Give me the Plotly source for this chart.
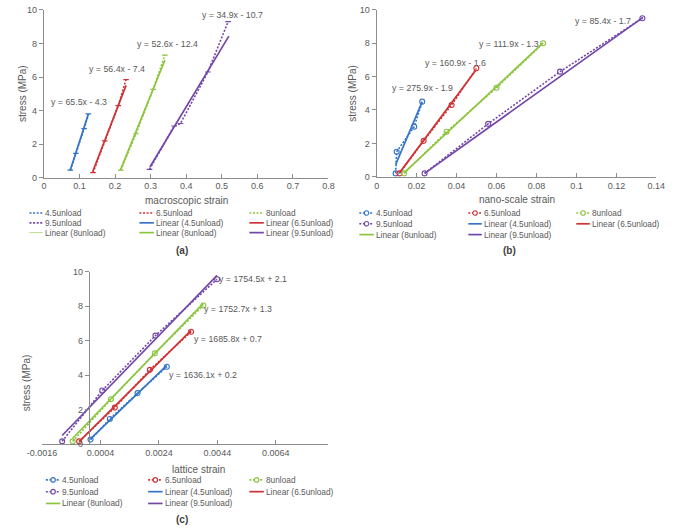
import plotly.graph_objects as go

W, H = 675, 532

# ---------------- data ----------------
series_labels = ["4.5unload", "6.5unload", "8unload", "9.5unload"]

# (a) macroscopic strain -> stress (MPa)
macro_strain_45 = [0.074, 0.090, 0.113, 0.125]
macro_stress_45 = [0.45, 1.45, 2.92, 3.80]
macro_strain_65 = [0.138, 0.171, 0.209, 0.231]
macro_stress_65 = [0.30, 2.20, 4.30, 5.85]
macro_strain_8 = [0.216, 0.259, 0.307, 0.340]
macro_stress_8 = [0.45, 2.62, 5.26, 7.30]
macro_strain_95 = [0.297, 0.366, 0.384, 0.461, 0.518]
macro_stress_95 = [0.50, 3.08, 3.23, 6.30, 9.30]
# linear trend lines (end points)
macro_fit_x_45 = [0.074, 0.125]
macro_fit_y_45 = [0.45, 3.80]
macro_fit_x_65 = [0.137, 0.231]
macro_fit_y_65 = [0.35, 5.50]
macro_fit_x_8 = [0.215, 0.340]
macro_fit_y_8 = [0.45, 7.00]
macro_fit_x_95 = [0.298, 0.520]
macro_fit_y_95 = [0.64, 8.44]
macro_equations = ["y = 65.5x - 4.3", "y = 56.4x - 7.4", "y = 52.6x - 12.4", "y = 34.9x - 10.7"]

# (b) nano-scale strain -> stress (MPa)
nano_strain_45 = [0.0095, 0.0100, 0.0188, 0.0228]
nano_stress_45 = [0.20, 1.50, 3.00, 4.50]
nano_strain_65 = [0.0114, 0.0235, 0.0375, 0.0499]
nano_stress_65 = [0.20, 2.15, 4.30, 6.50]
nano_strain_8 = [0.0137, 0.0350, 0.0600, 0.0833]
nano_stress_8 = [0.20, 2.70, 5.33, 8.00]
nano_strain_95 = [0.0240, 0.0558, 0.0918, 0.1330]
nano_stress_95 = [0.20, 3.17, 6.30, 9.50]
nano_fit_x_45 = [0.0095, 0.0228]
nano_fit_y_45 = [0.72, 4.50]
nano_fit_x_65 = [0.0114, 0.0499]
nano_fit_y_65 = [0.23, 6.43]
nano_fit_x_8 = [0.0137, 0.0833]
nano_fit_y_8 = [0.23, 8.02]
nano_fit_x_95 = [0.0240, 0.1333]
nano_fit_y_95 = [0.20, 9.55]
nano_equations = ["y = 275.9x - 1.9", "y = 160.9x - 1.6", "y = 111.9x - 1.3", "y = 85.4x - 1.7"]

# (c) lattice strain -> stress (MPa)
lattice_strain_45 = [0.00006, 0.00072, 0.00167, 0.00267]
lattice_stress_45 = [0.26, 1.46, 2.96, 4.49]
lattice_strain_65 = [-0.00033, 0.00089, 0.00209, 0.00350]
lattice_stress_65 = [0.16, 2.12, 4.31, 6.52]
lattice_strain_8 = [-0.00055, 0.00076, 0.00226, 0.00392]
lattice_stress_8 = [0.16, 2.60, 5.27, 8.05]
lattice_strain_95 = [-0.00091, 0.00046, 0.00228, 0.00439]
lattice_stress_95 = [0.16, 3.11, 6.30, 9.57]
lattice_fit_x_45 = [0.00006, 0.00267]
lattice_fit_y_45 = [0.30, 4.57]
lattice_fit_x_65 = [-0.00033, 0.00350]
lattice_fit_y_65 = [0.14, 6.60]
lattice_fit_x_8 = [-0.00055, 0.00392]
lattice_fit_y_8 = [0.34, 8.17]
lattice_fit_x_95 = [-0.00091, 0.00439]
lattice_fit_y_95 = [0.50, 9.80]
lattice_equations = ["y = 1636.1x + 0.2", "y = 1685.8x + 0.7", "y = 1752.7x + 1.3", "y = 1754.5x + 2.1"]

# tick labels
macro_ticks = [0, 0.1, 0.2, 0.3, 0.4, 0.5, 0.6, 0.7, 0.8]
nano_ticks = [0, 0.02, 0.04, 0.06, 0.08, 0.1, 0.12, 0.14]
nano_ticktext = ["0", "0.02", "0.04", "0.06", "0.08", "0.1", "0.12", "0.14"]
lattice_ticks = [-0.0016, 0.0004, 0.0024, 0.0044, 0.0064]
lattice_ticktext = ["-0.0016", "0.0004", "0.0024", "0.0044", "0.0064"]
stress_ticks = [0, 2, 4, 6, 8, 10]

# ---------------- styles ----------------
FONT = "Liberation Sans, Arial, sans-serif"
TXT = "#595959"
AXC = "#8c8c8c"
COLORS = ["#3574C6", "#CF3234", "#8CC540", "#7347A8"]
LIGHT_GREEN = "#B9DC8F"
DOT = "2px,1.6px"


def px_x(px):
    return px / W


def px_y(py):
    return 1 - py / H


DOM = {
    "a": ([px_x(30), px_x(325)], [px_y(176), px_y(5)]),
    "b": ([px_x(375), px_x(665)], [px_y(175), px_y(5)]),
    "c": ([px_x(28), px_x(325)], [px_y(447.5), px_y(272)]),
}

fig = go.Figure()

panels = [
    ("x", "y", "a",
     [(macro_strain_45, macro_stress_45), (macro_strain_65, macro_stress_65),
      (macro_strain_8, macro_stress_8), (macro_strain_95, macro_stress_95)],
     [(macro_fit_x_45, macro_fit_y_45), (macro_fit_x_65, macro_fit_y_65),
      (macro_fit_x_8, macro_fit_y_8), (macro_fit_x_95, macro_fit_y_95)]),
    ("x2", "y2", "b",
     [(nano_strain_45, nano_stress_45), (nano_strain_65, nano_stress_65),
      (nano_strain_8, nano_stress_8), (nano_strain_95, nano_stress_95)],
     [(nano_fit_x_45, nano_fit_y_45), (nano_fit_x_65, nano_fit_y_65),
      (nano_fit_x_8, nano_fit_y_8), (nano_fit_x_95, nano_fit_y_95)]),
    ("x3", "y3", "c",
     [(lattice_strain_45, lattice_stress_45), (lattice_strain_65, lattice_stress_65),
      (lattice_strain_8, lattice_stress_8), (lattice_strain_95, lattice_stress_95)],
     [(lattice_fit_x_45, lattice_fit_y_45), (lattice_fit_x_65, lattice_fit_y_65),
      (lattice_fit_x_8, lattice_fit_y_8), (lattice_fit_x_95, lattice_fit_y_95)]),
]

for xa, ya, key, data, fits in panels:
    for i, (sx, sy) in enumerate(data):
        if key == "a":
            mk = dict(symbol="line-ew-open", size=4, color=COLORS[i], line=dict(width=1.2, color=COLORS[i]))
        else:
            mk = dict(symbol="circle-open", size=5, color=COLORS[i], line=dict(width=1.1, color=COLORS[i]))
        fig.add_trace(go.Scatter(x=sx, y=sy, xaxis=xa, yaxis=ya, mode="lines+markers",
                                 name=series_labels[i], showlegend=False,
                                 line=dict(color=COLORS[i], width=1.6, dash=DOT), marker=mk,
                                 hoverinfo="skip"))
    for i, (fx, fy) in enumerate(fits):
        if key == "a" and i == 2:
            fig.add_trace(go.Scatter(x=fx, y=fy, xaxis=xa, yaxis=ya, mode="lines",
                                     name="Linear (" + series_labels[i] + ")", showlegend=False,
                                     line=dict(color=LIGHT_GREEN, width=1), hoverinfo="skip"))
        fig.add_trace(go.Scatter(x=fx, y=fy, xaxis=xa, yaxis=ya, mode="lines",
                                 name="Linear (" + series_labels[i] + ")", showlegend=False,
                                 line=dict(color=COLORS[i], width=1.7), hoverinfo="skip"))

# equation labels (positions in data units)
eq_pos = {
    "a": ("x", "y", macro_equations, [(0.0976, 4.5), (0.206, 6.49), (0.347, 7.95), (0.529, 9.67)]),
    "b": ("x2", "y2", nano_equations, [(0.0228, 5.29), (0.0397, 6.8), (0.066, 7.94), (0.1131, 9.35)]),
    "c": ("x3", "y3", lattice_equations, [(0.00392, 4.01), (0.00476, 6.09), (0.00512, 7.86), (0.00562, 9.57)]),
}
annotations = []
for key, (xa, ya, eqs, pos) in eq_pos.items():
    for txt, (ex, ey) in zip(eqs, pos):
        annotations.append(dict(x=ex, y=ey, xref=xa, yref=ya, text=txt, showarrow=False,
                                xanchor="center", yanchor="middle",
                                font=dict(size=8.8, color=TXT, family=FONT)))

# axis titles and panel labels (pixel positions)
titles = [
    ("macroscopic strain", 178, 199, 0), ("stress (MPa)", 8, 90, -90),
    ("nano-scale strain", 520, 198, 0), ("stress (MPa)", 350, 90, -90),
    ("lattice strain", 190, 473, 0), ("stress (MPa)", 12, 385, -90),
]
for txt, tx, ty, ang in titles:
    annotations.append(dict(x=px_x(tx), y=px_y(ty), xref="paper", yref="paper", text=txt,
                            showarrow=False, textangle=ang, xanchor="center", yanchor="middle",
                            font=dict(size=10, color=TXT, family=FONT)))
for txt, tx, ty in [("(a)", 173, 250), ("(b)", 513, 250), ("(c)", 173, 524)]:
    annotations.append(dict(x=px_x(tx), y=px_y(ty), xref="paper", yref="paper", text="<b>" + txt + "</b>",
                            showarrow=False, xanchor="center", yanchor="middle",
                            font=dict(size=10, color="#404040", family=FONT)))

# legends (drawn as keys + labels)
shapes = []


def legend_block(entries, col_sw, col_tx, rows, with_marker):
    for k, (label, color, kind, lw) in enumerate(entries):
        r, c = divmod(k, 3)
        y = rows[r]
        x0 = col_sw[c]
        x1 = col_tx[c] - 1
        if kind == "data":
            shapes.append(dict(type="line", xref="paper", yref="paper", x0=px_x(x0), x1=px_x(x1),
                               y0=px_y(y), y1=px_y(y), line=dict(color=color, width=1.6, dash=DOT)))
            if with_marker:
                cx = (x0 + x1) / 2
                shapes.append(dict(type="circle", xref="paper", yref="paper",
                                   x0=px_x(cx - 2.3), x1=px_x(cx + 2.3), y0=px_y(y + 2.3), y1=px_y(y - 2.3),
                                   line=dict(color=color, width=1.1), fillcolor="white"))
        else:
            shapes.append(dict(type="line", xref="paper", yref="paper", x0=px_x(x0), x1=px_x(x1),
                               y0=px_y(y), y1=px_y(y), line=dict(color=color, width=lw)))
        annotations.append(dict(x=px_x(col_tx[c] - 1), y=px_y(y), xref="paper", yref="paper", text=label,
                                showarrow=False, xanchor="left", yanchor="middle",
                                font=dict(size=8.3, color=TXT, family=FONT)))


data_entries = [(series_labels[i], COLORS[i], "data", 1.6) for i in range(4)]
fit_entries = [("Linear (" + series_labels[i] + ")", COLORS[i], "fit", 1.7) for i in range(4)]

legend_a = data_entries + fit_entries[:2] + [("Linear (8unload)", LIGHT_GREEN, "fit", 1.0)] + fit_entries[2:]
legend_bc = data_entries + fit_entries

legend_block(legend_a, [15, 129, 243], [30, 145, 259], [212, 222, 232], False)
legend_block(legend_bc, [357, 470, 582], [373, 485, 597], [212, 223, 234], True)
legend_block(legend_bc, [32, 138, 243], [48, 154, 259], [484, 496, 508], True)

common = dict(showline=True, linecolor=AXC, linewidth=1, showgrid=False, zeroline=False,
              tickfont=dict(size=9, color=TXT, family=FONT), ticklen=4, tickcolor=AXC, tickwidth=1,
              fixedrange=True)

cx0, cx1 = DOM["c"][0]
y3_pos = cx0 + (0 - (-0.0016)) / (0.0082 - (-0.0016)) * (cx1 - cx0)

fig.update_layout(
    width=W, height=H,
    margin=dict(l=0, r=0, t=0, b=0),
    paper_bgcolor="white", plot_bgcolor="rgba(0,0,0,0)",
    showlegend=False,
    font=dict(family=FONT, color=TXT),
    xaxis=dict(domain=DOM["a"][0], range=[0, 0.8], tickvals=macro_ticks, ticks="inside", anchor="y", **common),
    yaxis=dict(domain=DOM["a"][1], range=[0, 10], tickvals=stress_ticks, ticks="outside", anchor="x", **common),
    xaxis2=dict(domain=DOM["b"][0], range=[0, 0.14], tickvals=nano_ticks, ticktext=nano_ticktext,
                ticks="inside", anchor="y2", **common),
    yaxis2=dict(domain=DOM["b"][1], range=[0, 10], tickvals=stress_ticks, ticks="outside", anchor="x2", **common),
    xaxis3=dict(domain=DOM["c"][0], range=[-0.0016, 0.0082], tickvals=lattice_ticks, ticktext=lattice_ticktext,
                ticks="inside", anchor="y3", **common),
    yaxis3=dict(domain=DOM["c"][1], range=[0, 10], tickvals=stress_ticks, ticks="outside",
                anchor="free", position=y3_pos, **common),
    annotations=annotations,
    shapes=shapes,
)

fig.write_html("out.html", config={"displayModeBar": False},
               post_script="document.body.style.margin='0';document.body.style.overflow='hidden';")
